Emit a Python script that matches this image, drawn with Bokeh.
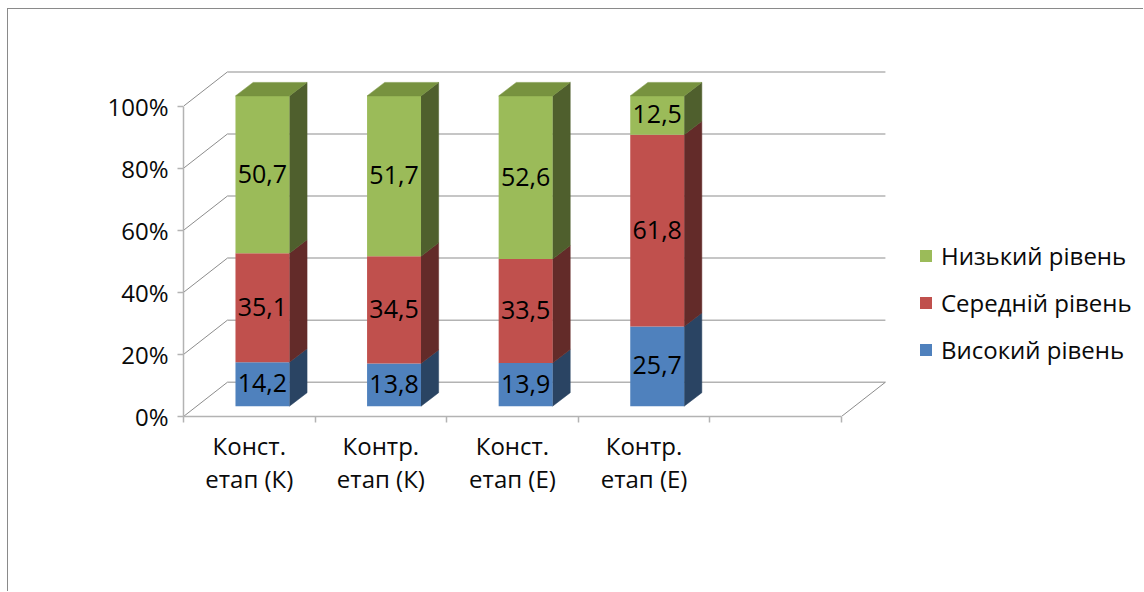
from bokeh.plotting import figure
from bokeh.embed import file_html
from bokeh.resources import INLINE
from bokeh.models import (Range1d, FixedTicker, PrintfTickFormatter, Legend, LegendItem,
                          ColumnDataSource)
from bokeh.core.properties import value

categories = ["Конст.\nетап (К)", "Контр.\nетап (К)", "Конст.\nетап (Е)", "Контр.\nетап (Е)"]
high = [14.2, 13.8, 13.9, 25.7]
medium = [35.1, 34.5, 33.5, 61.8]
low = [50.7, 51.7, 52.6, 12.5]
labels = {"Високий рівень": high, "Середній рівень": medium, "Низький рівень": low}
y_ticks = [0, 20, 40, 60, 80, 100]
slots = 5

FONT = "Open Sans"
front = ["#4F81BD", "#C0504D", "#9BBB59"]
side = ["#2A4463", "#632B29", "#4F5F2D"]
top_col = "#77923F"
GRID = "#b3b3b3"
DIAG = "#8c8c8c"

# 3-D projection, in data units
WALL_DX, WALL_DY = 0.334, 11.05
BAR_DX, BAR_DY = 0.134, 4.35
FLOOR_DY = 3.32
BAR_L, BAR_W = 0.395, 0.41

p = figure(width=1136, height=583, output_backend="svg", toolbar_location=None,
           x_range=Range1d(0, 7.303), y_range=Range1d(0, 131.16),
           min_border_left=175, min_border_right=0, min_border_top=0, min_border_bottom=176,
           outline_line_color=None, background_fill_color="white", border_fill_color="white")
p.margin = (9, 0, 0, 8)
p.styles = {"box-shadow": "-1px -1px 0 #8a8a8a"}
p.grid.visible = False

# walls
p.segment([WALL_DX] * len(y_ticks), [t + WALL_DY for t in y_ticks],
          [slots + WALL_DX] * len(y_ticks), [t + WALL_DY for t in y_ticks],
          line_color=GRID, line_width=1.5)
p.segment([0] * len(y_ticks), y_ticks, [WALL_DX] * len(y_ticks), [t + WALL_DY for t in y_ticks],
          line_color=DIAG, line_width=1)
p.segment([slots], [0], [slots + WALL_DX], [WALL_DY], line_color=DIAG, line_width=1)

# axes
yax = p.yaxis[0]
yax.ticker = FixedTicker(ticks=y_ticks)
yax.formatter = PrintfTickFormatter(format="%d%%")
yax.bounds = (0, 100)
yax.axis_line_color = GRID
yax.axis_line_width = 1.5
yax.major_tick_line_color = GRID
yax.major_tick_line_width = 1.5
yax.major_tick_in = 0
yax.major_tick_out = 6
yax.minor_tick_line_color = None
yax.major_label_text_font = FONT
yax.major_label_text_font_size = "24px"
yax.major_label_text_color = "#0a0a0a"
yax.major_label_standoff = 9

xax = p.xaxis[0]
centers = [i + 0.5 for i in range(len(categories))]
xax.ticker = FixedTicker(ticks=centers, minor_ticks=list(range(slots + 1)))
xax.major_label_overrides = {c: t for c, t in zip(centers, categories)}
xax.bounds = (0, slots)
xax.axis_line_color = GRID
xax.axis_line_width = 1.5
xax.major_tick_line_color = None
xax.minor_tick_line_color = GRID
xax.minor_tick_line_width = 1.5
xax.minor_tick_in = 0
xax.minor_tick_out = 6
xax.major_label_text_font = FONT
xax.major_label_text_font_size = "24px"
xax.major_label_text_color = "#0a0a0a"
xax.major_label_text_line_height = 1.02
xax.major_label_standoff = 6

# bars
items = []
series = list(labels.items())
base = [FLOOR_DY] * len(categories)
lx = [i + BAR_L for i in range(len(categories))]
for k, (name, vals) in enumerate(series):
    tops = [b + v for b, v in zip(base, vals)]
    rx = [x + BAR_W for x in lx]
    xs = [[r, r + BAR_DX, r + BAR_DX, r] for r in rx]
    ys = [[b, b + BAR_DY, t + BAR_DY, t] for b, t in zip(base, tops)]
    p.patches(xs, ys, fill_color=side[k], line_color=side[k], line_width=0.5)
    q = p.quad(left=lx, right=rx, bottom=base, top=tops, fill_color=front[k], line_color=None)
    items.append(LegendItem(label=name, renderers=[q]))
    src = ColumnDataSource(dict(x=[x + BAR_W / 2 for x in lx],
                                y=[(b + t) / 2 for b, t in zip(base, tops)],
                                t=[f"{v:.1f}".replace(".", ",") for v in vals]))
    p.text("x", "y", text="t", source=src, text_align="center", text_baseline="middle",
           text_font=value(FONT), text_font_size="25px", text_color="#000000",
           y_offset=-1, level="overlay")
    base = tops

xs = [[x, x + BAR_DX, x + BAR_W + BAR_DX, x + BAR_W] for x in lx]
ys = [[t, t + BAR_DY, t + BAR_DY, t] for t in base]
p.patches(xs, ys, fill_color=top_col, line_color=top_col, line_width=0.5)

legend = Legend(items=list(reversed(items)), location=(735, 50), padding=0, margin=0, spacing=14,
                glyph_width=15, glyph_height=15, label_height=20, label_standoff=8,
                label_text_font=FONT, label_text_font_size="24px", label_text_color="#0a0a0a",
                background_fill_alpha=0, border_line_alpha=0)
p.add_layout(legend, "center")

open("out.html", "w").write(file_html(p, INLINE))
